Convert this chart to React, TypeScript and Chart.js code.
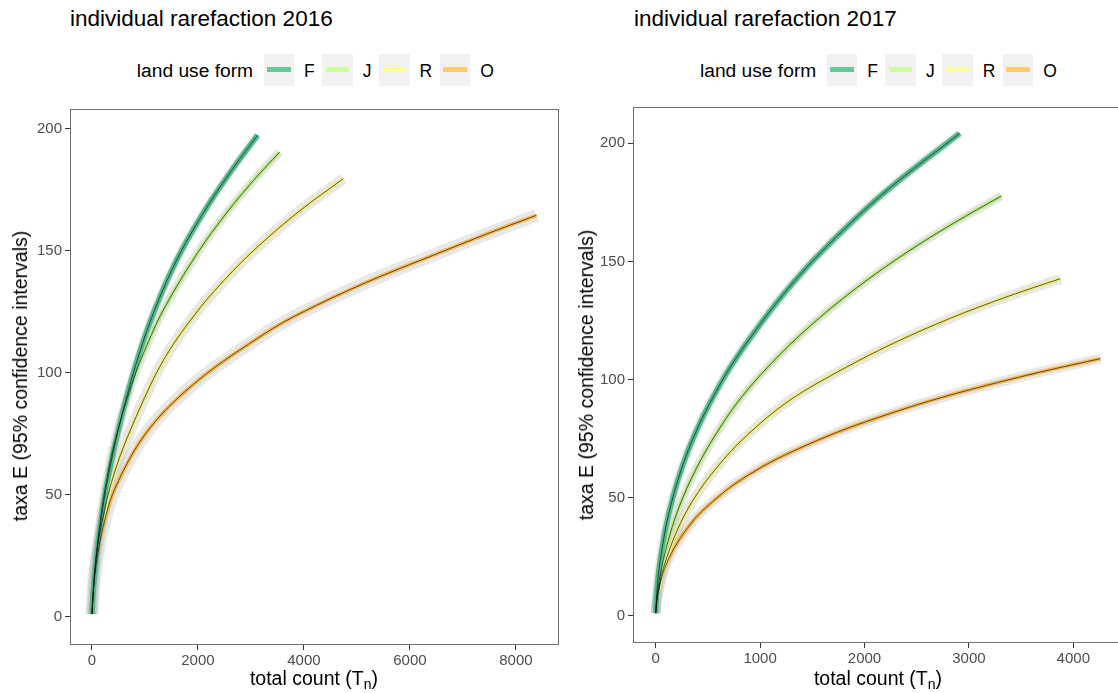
import React, { useEffect, useRef } from 'react';
import { Chart, registerables } from 'chart.js';

Chart.register(...registerables);

const FONT = "'Liberation Sans', Arial, Helvetica, sans-serif";

// land use forms and their colours
const landUse = ['F', 'J', 'R', 'O'];
const lineColors = ['#52b98a', '#bdeb88', '#f1ec84', '#f5bb55'];
const keyColors = ['#66c99a', '#ccff99', '#ffff99', '#ffcc66'];

// 2016: total count (x) and expected taxa (y) per land use form
const f16Count = [1, 10, 40, 107, 277, 560, 938, 1300, 1700, 2200, 2667, 3126];
const f16Taxa = [1, 5.5, 14.5, 29, 54, 82.2, 111, 132, 150.5, 169, 184, 197.5];
const j16Count = [1, 10, 60, 119, 245, 434, 749, 1043, 1377, 2000, 2541, 3040, 3540];
const j16Taxa = [1, 5.5, 20.5, 33, 52, 72, 95.2, 111.7, 127, 149.4, 165.6, 178.7, 190.5];
const r16Count = [1, 10, 57, 182, 434, 874, 1377, 2006, 2600, 3138, 3925, 4742];
const r16Taxa = [1, 5.3, 20, 38, 59.8, 84, 106.2, 125.7, 140.4, 151.9, 166.5, 179.6];
const o16Count = [1, 10, 57, 182, 434, 1063, 2006, 3264, 3925, 5170, 6440, 7400, 8390];
const o16Taxa = [1, 5, 17.5, 34, 52.5, 76.5, 96.9, 116.1, 124.3, 137, 148.2, 156.5, 164.6];

// 2017
const f17Count = [1, 10, 32, 96, 166, 262, 374, 517, 709, 948, 1220, 1523, 1950, 2337, 2912];
const f17Taxa = [1, 9.3, 19.6, 37.1, 50.2, 64, 76.6, 89.8, 104.8, 120.2, 135.9, 151.1, 169.7, 184.5, 204.2];
const j17Count = [1, 5, 20, 55, 141, 246, 390, 565, 789, 1092, 1475, 1922, 2401, 2850, 3311];
const j17Taxa = [1, 4.1, 10.4, 19.9, 35, 48.4, 62.3, 76, 90.6, 106.1, 122.5, 138.7, 153.7, 166.1, 177.7];
const r17Count = [1, 10, 35, 80, 198, 357, 581, 868, 1284, 1827, 2300, 2816, 3350, 3876];
const r17Taxa = [1, 5.7, 12.9, 20.9, 35.3, 48.8, 62.5, 76.1, 91.2, 105.2, 115.8, 125.8, 134.8, 142.7];
const o17Count = [1, 5, 20, 50, 100, 180, 280, 400, 560, 750, 1028, 1300, 1731, 2146, 2625, 3135, 3700, 4259];
const o17Taxa = [1, 3.7, 8.8, 14.7, 21.7, 28.8, 35.6, 42.2, 48.8, 55.5, 63.2, 69.3, 77.5, 84.1, 90.9, 97.1, 103.3, 108.8];

// tick labels
const ticks2016X = [0, 2000, 4000, 6000, 8000];
const ticks2017X = [0, 1000, 2000, 3000, 4000];
const ticksY = [0, 50, 100, 150, 200];

type Series = { x: number[]; y: number[]; band: number; core: number };

const panelBorder = {
  id: 'panelBorder',
  afterDatasetsDraw(chart: any) {
    const { ctx, chartArea: a } = chart;
    ctx.save();
    ctx.strokeStyle = '#6f6f6f';
    ctx.lineWidth = 1;
    ctx.strokeRect(Math.round(a.left) + 0.5, Math.round(a.top) + 0.5, Math.round(a.right - a.left), Math.round(a.bottom - a.top));
    ctx.restore();
  },
};

type PanelProps = {
  series: Series[];
  xTicks: number[];
  xMin: number;
  xMax: number;
  yMin: number;
  yMax: number;
  left: number;
  top: number;
  width: number;
  height: number;
  padTop: number;
  padRight: number;
  yAxisW: number;
  xAxisH: number;
};

function PlotCanvas(p: PanelProps) {
  const ref = useRef<HTMLCanvasElement>(null);
  useEffect(() => {
    const datasets: any[] = [];
    p.series.forEach((s, i) => {
      const data = s.x.map((x, k) => ({ x, y: s.y[k] }));
      const base = {
        data,
        pointRadius: 0,
        fill: false,
        cubicInterpolationMode: 'default',
        tension: 0.35,
        borderCapStyle: 'butt',
        borderJoinStyle: 'round',
      };
      datasets.push({ ...base, label: landUse[i] + ' interval', borderColor: 'rgba(185,185,185,0.33)', borderWidth: s.band, order: 3 });
      datasets.push({ ...base, label: landUse[i], borderColor: lineColors[i], borderWidth: s.core, order: 2 });
      datasets.push({ ...base, label: landUse[i] + ' estimate', borderColor: 'rgba(20,20,20,0.85)', borderWidth: 0.8, order: 1 });
    });
    const tickFont = { family: FONT, size: 15 };
    const chart = new Chart(ref.current as HTMLCanvasElement, {
      type: 'line',
      data: { datasets },
      plugins: [panelBorder],
      options: {
        animation: false,
        responsive: false,
        devicePixelRatio: 1,
        layout: { padding: { top: p.padTop, right: p.padRight, left: 0, bottom: 0 } },
        plugins: { legend: { display: false }, tooltip: { enabled: false }, title: { display: false } },
        scales: {
          x: {
            type: 'linear',
            min: p.xMin,
            max: p.xMax,
            afterBuildTicks: (s: any) => {
              s.ticks = p.xTicks.map((v) => ({ value: v }));
            },
            afterFit: (s: any) => {
              s.height = p.xAxisH;
              s.paddingLeft = 0;
              s.paddingRight = 0;
            },
            ticks: {
              callback: (v: any) => String(v),
              color: '#4d4d4d',
              font: tickFont,
              padding: 2,
              maxRotation: 0,
              autoSkip: false,
            },
            grid: { drawOnChartArea: false, drawTicks: true, tickLength: 6, color: '#333333', lineWidth: 1 },
            border: { display: false },
          },
          y: {
            type: 'linear',
            min: p.yMin,
            max: p.yMax,
            afterBuildTicks: (s: any) => {
              s.ticks = ticksY.map((v) => ({ value: v }));
            },
            afterFit: (s: any) => {
              s.width = p.yAxisW;
              s.paddingTop = 0;
              s.paddingBottom = 0;
            },
            ticks: {
              callback: (v: any) => String(v),
              color: '#4d4d4d',
              font: tickFont,
              padding: 3,
              autoSkip: false,
            },
            grid: { drawOnChartArea: false, drawTicks: true, tickLength: 5, color: '#333333', lineWidth: 1 },
            border: { display: false },
          },
        },
      } as any,
    });
    return () => chart.destroy();
  }, []);
  return (
    <canvas
      ref={ref}
      width={p.width}
      height={p.height}
      style={{ position: 'absolute', left: p.left, top: p.top, width: p.width, height: p.height }}
    />
  );
}

function Legend({ left, top }: { left: number; top: number }) {
  return (
    <div style={{ position: 'absolute', left, top, height: 32, display: 'flex', alignItems: 'center', whiteSpace: 'nowrap' }}>
      <span style={{ fontSize: 19.2, lineHeight: '20px', paddingTop: 2, color: '#000' }}>land use form</span>
      {landUse.map((name, i) => (
        <React.Fragment key={name}>
          <span
            style={{
              marginLeft: i === 0 ? 10.5 : 7.5,
              width: 30.5,
              height: 32,
              background: '#f2f2f2',
              position: 'relative',
              display: 'inline-block',
            }}
          >
            <span style={{ position: 'absolute', left: 3.5, top: 13.5, width: 23.5, height: 5, background: keyColors[i] }} />
          </span>
          <span style={{ marginLeft: 10, fontSize: 17.5, lineHeight: '18px', paddingTop: 2, color: '#000' }}>{name}</span>
        </React.Fragment>
      ))}
    </div>
  );
}

function XTitle({ cx, top }: { cx: number; top: number }) {
  return (
    <div style={{ position: 'absolute', left: cx, top, transform: 'translateX(-50%)', fontSize: 19.5, lineHeight: '20px', whiteSpace: 'nowrap', color: '#000' }}>
      total count (T<span style={{ fontSize: '0.72em', position: 'relative', top: '0.3em' }}>n</span>)
    </div>
  );
}

function YTitle({ cx, cy }: { cx: number; cy: number }) {
  return (
    <div
      style={{
        position: 'absolute',
        left: cx,
        top: cy,
        transform: 'translate(-50%, -50%) rotate(-90deg)',
        fontSize: 19.5,
        lineHeight: '20px',
        whiteSpace: 'nowrap',
        color: '#000',
      }}
    >
      taxa E (95% confidence intervals)
    </div>
  );
}

function Title({ left, text }: { left: number; text: string }) {
  return (
    <div style={{ position: 'absolute', left, top: 8, fontSize: 22.5, lineHeight: '22.5px', whiteSpace: 'nowrap', color: '#000' }}>{text}</div>
  );
}

const series2016: Series[] = [
  { x: f16Count, y: f16Taxa, band: 8, core: 5.5 },
  { x: j16Count, y: j16Taxa, band: 9, core: 4 },
  { x: r16Count, y: r16Taxa, band: 11, core: 4 },
  { x: o16Count, y: o16Taxa, band: 13, core: 4 },
];

const series2017: Series[] = [
  { x: f17Count, y: f17Taxa, band: 9, core: 5.5 },
  { x: j17Count, y: j17Taxa, band: 9, core: 4 },
  { x: r17Count, y: r17Taxa, band: 10, core: 4 },
  { x: o17Count, y: o17Taxa, band: 10, core: 4 },
];

export default function App() {
  return (
    <div
      style={{
        position: 'absolute',
        left: 0,
        top: 0,
        width: 1118,
        height: 693,
        overflow: 'hidden',
        background: '#ffffff',
        fontFamily: FONT,
      }}
    >
      <Title left={70} text="individual rarefaction 2016" />
      <Legend left={136.8} top={53.5} />
      <PlotCanvas
        series={series2016}
        xTicks={ticks2016X}
        xMin={-415}
        xMax={8795}
        yMin={-11.3}
        yMax={208.2}
        left={30}
        top={100}
        width={540}
        height={580}
        padTop={9}
        padRight={12}
        yAxisW={40}
        xAxisH={36}
      />
      <XTitle cx={314} top={668} />
      <YTitle cx={20} cy={376} />

      <Title left={634} text="individual rarefaction 2017" />
      <Legend left={700} top={53.5} />
      <PlotCanvas
        series={series2017}
        xTicks={ticks2017X}
        xMin={-217}
        xMax={4476}
        yMin={-11.2}
        yMax={215.4}
        left={595}
        top={100}
        width={540}
        height={580}
        padTop={7}
        padRight={12}
        yAxisW={38}
        xAxisH={38}
      />
      <XTitle cx={878} top={668} />
      <YTitle cx={586} cy={375} />
    </div>
  );
}
